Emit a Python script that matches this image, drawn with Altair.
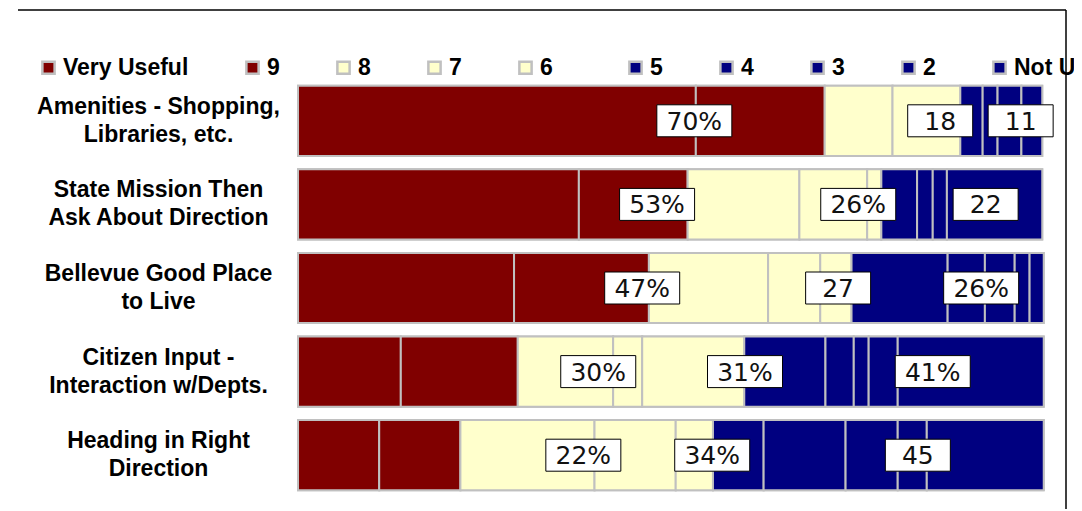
import altair as alt
import pandas as pd

# ---- data ----
categories = [
    "Amenities - Shopping,|Libraries, etc.",
    "State Mission Then|Ask About Direction",
    "Bellevue Good Place|to Live",
    "Citizen Input -|Interaction w/Depts.",
    "Heading in Right|Direction",
]
ratings = ["Very Useful", "9", "8", "7", "6", "5", "4", "3", "2", "Not Useful"]
rating_colors = ["#800000", "#800000", "#FFFFCC", "#FFFFCC", "#FFFFCC",
                 "#000080", "#000080", "#000080", "#000080", "#000080"]

amenities = [53.4, 17.3, 9.1, 9.1, 0.0, 3.0, 2.0, 3.2, 2.8, 0.0]
state_mission = [37.7, 14.6, 15.0, 9.1, 1.9, 4.8, 2.1, 1.9, 12.8, 0.0]
bellevue = [29.0, 18.1, 16.0, 7.0, 4.2, 12.9, 5.0, 4.0, 2.0, 1.9]
citizen = [13.8, 15.7, 12.8, 3.9, 13.7, 10.9, 3.8, 2.0, 3.9, 19.6]
heading = [10.9, 10.9, 18.0, 10.9, 5.0, 6.8, 11.0, 7.0, 3.9, 15.7]
series = [amenities, state_mission, bellevue, citizen, heading]

label_text = [["70%", "18", "11"], ["53%", "26%", "22"], ["47%", "27", "26%"],
              ["30%", "31%", "41%"], ["22%", "34%", "45"]]
label_pos = [[53.2, 86.2, 97.0], [48.2, 75.2, 92.3], [46.2, 72.5, 91.7],
             [40.3, 60.0, 85.2], [38.3, 55.6, 83.2]]

# ---- tables ----
rows = []
for cat, vals in zip(categories, series):
    for i, (r, v) in enumerate(zip(ratings, vals)):
        if v > 0:
            rows.append({"cat": cat, "rating": r, "order": i, "value": v})
bars_df = pd.DataFrame(rows)

PLOT_W = 745
PLOT_H = 418
lab_rows = []
for cat, texts, poss in zip(categories, label_text, label_pos):
    for t, p in zip(texts, poss):
        half = (45 + 10 * len(t)) / 2 * 100 / PLOT_W
        lab_rows.append({"cat": cat, "txt": t, "pos": p, "x0": p - half, "x1": p + half})
lab_df = pd.DataFrame(lab_rows)

xscale = alt.Scale(domain=[0, 100], nice=False, zero=True)
yscale = alt.Scale(domain=categories, paddingInner=0.16, paddingOuter=0.08)
cscale = alt.Scale(domain=ratings, range=rating_colors)

legend_style = dict(title=None, orient="none", direction="horizontal", columns=5,
                    columnPadding=52, legendY=-23, symbolType="square", symbolSize=150,
                    symbolStrokeColor="#c0c0c0", symbolStrokeWidth=2.5, symbolOpacity=1,
                    labelOffset=3, labelFont="Liberation Sans", labelFontWeight="bold",
                    labelFontSize=23, labelColor="#000000", labelLimit=300)

x_enc = alt.X("value:Q", stack="zero", scale=xscale, axis=None)
y_enc = alt.Y("cat:N", scale=yscale, sort=categories, title=None,
              axis=alt.Axis(labelExpr="split(datum.label, '|')", labelAlign="center",
                            labelBaseline="middle", labelPadding=140, labelLimit=400,
                            labelOffset=-14,
                            labelFont="Liberation Sans", labelFontWeight="bold",
                            labelFontSize=23, labelLineHeight=28, labelColor="#000000",
                            ticks=False, tickSize=0, domain=False, grid=False))

bars = alt.Chart(bars_df).mark_bar(stroke="#c0c0c0", strokeWidth=2).encode(
    x=x_enc, y=y_enc,
    color=alt.Color("rating:N", sort=ratings, scale=cscale,
                    legend=alt.Legend(values=ratings[:5], legendX=-261, **legend_style)),
    order=alt.Order("order:Q"),
)

# same bars drawn again with the fill channel, to carry the second half of the legend
bars2 = alt.Chart(bars_df).mark_bar(stroke="#c0c0c0", strokeWidth=2).encode(
    x=x_enc, y=alt.Y("cat:N", scale=yscale, sort=categories),
    fill=alt.Fill("rating:N", sort=ratings, scale=cscale,
                  legend=alt.Legend(values=ratings[5:], legendX=326, **legend_style)),
    order=alt.Order("order:Q"),
)

boxes = alt.Chart(lab_df).mark_bar(size=32, fill="white", stroke="black", strokeWidth=1).encode(
    x=alt.X("x0:Q", scale=xscale),
    x2="x1:Q",
    y=alt.Y("cat:N", scale=yscale, sort=categories),
)

texts = alt.Chart(lab_df).mark_text(font="DejaVu Sans", fontSize=25, align="center",
                                    baseline="middle", color="#111111", dy=1).encode(
    x=alt.X("pos:Q", scale=xscale),
    y=alt.Y("cat:N", scale=yscale, sort=categories),
    text="txt:N",
)

frame_top = alt.Chart(pd.DataFrame({"a": [0]})).mark_rule(color="black", strokeWidth=1.5).encode(
    x=alt.value(-280), x2=alt.value(768), y=alt.value(-69))
frame_right = alt.Chart(pd.DataFrame({"a": [0]})).mark_rule(color="black", strokeWidth=1.5).encode(
    x=alt.value(768), y=alt.value(-69), y2=alt.value(440))

chart = alt.layer(bars, bars2, boxes, texts, frame_top, frame_right).resolve_scale(
    color="independent", fill="independent"
).properties(
    width=PLOT_W, height=PLOT_H,
    autosize=alt.AutoSizeParams(type="none"),
    padding={"left": 290, "top": 71, "right": 31, "bottom": 12},
    background="white",
).configure_view(stroke=None)

chart.save("out.html", embed_options={"renderer": "svg", "actions": False})
